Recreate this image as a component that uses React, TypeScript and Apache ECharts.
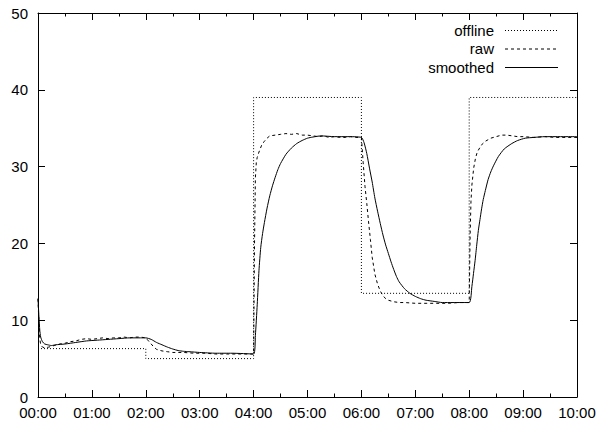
import React, { useEffect, useRef } from "react";
import * as echarts from "echarts";

const hourLabels = ["00:00", "01:00", "02:00", "03:00", "04:00", "05:00", "06:00", "07:00", "08:00", "09:00", "10:00"];
const yTicks = [0, 10, 20, 30, 40, 50];

const offlineTime = [0, 2, 2, 4, 4, 6, 6, 8, 8, 10];
const offlineValue = [6.3, 6.3, 5.0, 5.0, 39, 39, 13.5, 13.5, 39, 39];

const rawTime = [
  0, 0.017, 0.033, 0.05, 0.083, 0.125, 0.2, 0.3, 0.4, 0.5, 0.6, 0.7, 0.8, 0.9, 1.0, 1.1, 1.2, 1.3, 1.4, 1.5,
  1.6, 1.7, 1.8, 1.9, 2.0, 2.05, 2.1, 2.15, 2.2, 2.3, 2.4, 2.5, 2.7, 2.9, 3.1, 3.3, 3.5, 3.7, 3.9, 4.0,
  4.017, 4.033, 4.05, 4.067, 4.1, 4.15, 4.2, 4.25, 4.3, 4.4, 4.5, 4.6, 4.7, 4.8, 4.9, 5.0, 5.1, 5.2, 5.3, 5.4,
  5.5, 5.6, 5.7, 5.8, 5.9, 6.0, 6.033, 6.067, 6.1, 6.133, 6.167, 6.2, 6.25, 6.3, 6.35, 6.4, 6.45, 6.5, 6.6, 6.7,
  6.8, 7.0, 7.2, 7.4, 7.6, 7.8, 8.0, 8.017, 8.033, 8.05, 8.083, 8.117, 8.15, 8.2, 8.25, 8.3, 8.35, 8.4, 8.5, 8.6,
  8.7, 8.8, 8.9, 9.0, 9.2, 9.4, 9.6, 9.8, 10.0,
];
const rawValue = [
  12.8, 9.5, 7.6, 6.8, 6.5, 6.4, 6.5, 6.7, 6.9, 7.0, 7.2, 7.3, 7.5, 7.6, 7.5, 7.6, 7.7, 7.6, 7.7, 7.7,
  7.8, 7.7, 7.8, 7.8, 7.7, 7.3, 6.9, 6.5, 6.2, 6.0, 5.9, 5.8, 5.8, 5.7, 5.7, 5.6, 5.6, 5.6, 5.6, 5.6,
  20.0, 28.5, 30.5, 31.2, 31.9, 32.8, 33.3, 33.7, 34.0, 34.1, 34.2, 34.3, 34.2, 34.3, 34.1, 34.1, 34.0, 33.9, 34.0, 33.8,
  33.9, 33.8, 33.8, 33.9, 33.8, 33.8, 30.5, 27.4, 25.2, 22.8, 20.5, 18.2, 16.0, 14.7, 13.8, 13.2, 12.8, 12.6, 12.4, 12.3,
  12.3, 12.2, 12.2, 12.2, 12.2, 12.3, 12.3, 21.0, 25.5, 27.6, 29.8, 31.1, 31.9, 32.5, 33.0, 33.3, 33.5, 33.7, 33.9, 34.1,
  34.1, 34.0, 33.9, 33.9, 33.8, 33.9, 33.8, 33.8, 33.8,
];

const smoothTime = [
  0, 0.017, 0.033, 0.05, 0.083, 0.125, 0.18, 0.25, 0.33, 0.5, 0.7, 0.9, 1.1, 1.3, 1.5, 1.7, 1.9, 2.0,
  2.1, 2.2, 2.3, 2.4, 2.5, 2.6, 2.7, 2.8, 3.0, 3.3, 3.6, 4.0,
  4.033, 4.067, 4.1, 4.133, 4.167, 4.2, 4.25, 4.3, 4.35, 4.4, 4.45, 4.5, 4.6, 4.7, 4.8, 4.9, 5.0, 5.1, 5.25, 5.5, 5.75, 6.0,
  6.05, 6.1, 6.15, 6.2, 6.25, 6.3, 6.35, 6.4, 6.45, 6.5, 6.55, 6.6, 6.65, 6.7, 6.8, 6.9, 7.0, 7.1, 7.2, 7.35, 7.5, 7.7, 8.0,
  8.05, 8.08, 8.11, 8.14, 8.17, 8.2, 8.23, 8.26, 8.3, 8.35, 8.4, 8.45, 8.54, 8.65, 8.79, 8.9, 9.04, 9.2, 9.4, 10.0,
];
const smoothValue = [
  12.8, 10.5, 8.7, 7.8, 7.2, 6.9, 6.8, 6.7, 6.8, 6.9, 7.1, 7.3, 7.4, 7.5, 7.6, 7.7, 7.7, 7.7,
  7.5, 7.1, 6.8, 6.5, 6.25, 6.05, 5.95, 5.9, 5.8, 5.7, 5.7, 5.6,
  8.0, 12.0, 16.5, 19.5, 21.3, 22.7, 24.6, 26.2, 27.5, 28.6, 29.6, 30.4, 31.6, 32.4, 33.0, 33.4, 33.7, 33.85, 34.0, 33.9, 33.9, 33.8,
  33.1, 31.7, 29.8, 28.0, 25.9, 24.2, 22.6, 21.1, 19.8, 18.7, 17.6, 16.6, 15.7, 15.0, 14.1, 13.5, 13.1, 12.8, 12.6, 12.45, 12.3, 12.3, 12.3,
  14.4, 16.1, 17.8, 19.8, 21.7, 23.1, 24.5, 25.7, 26.9, 28.3, 29.3, 30.1, 31.3, 32.3, 33.0, 33.4, 33.7, 33.8, 33.9, 33.9,
];

const seriesNames = ["offline", "raw", "smoothed"];

const FONT = "'Liberation Sans', Arial, Helvetica, sans-serif";

function pairs(t: number[], v: number[]) {
  return t.map((x, i) => [x, v[i]]);
}

export default function App() {
  const ref = useRef<HTMLDivElement>(null);
  useEffect(() => {
    document.body.style.margin = "0";
    if (!ref.current) return;
    const chart = echarts.init(ref.current, undefined, { renderer: "svg" });
    const tickCommon = {
      axisLine: { show: true, onZero: false, lineStyle: { color: "#000", width: 1 } },
      axisTick: { show: true, inside: true, length: 7, lineStyle: { color: "#000", width: 1 } },
      splitLine: { show: false },
    };
    const dashes = [[1, 2], [3, 3], "solid"] as any[];
    const legendY = [30, 48.5, 67];
    const graphics: any[] = [];
    seriesNames.forEach((name, i) => {
      graphics.push({
        type: "text",
        x: 494,
        y: legendY[i],
        style: {
          text: name,
          font: `15px ${FONT}`,
          fill: "#000",
          align: "right",
          verticalAlign: "middle",
        },
      });
      graphics.push({
        type: "line",
        shape: { x1: 505, y1: legendY[i] + 0.5, x2: 558, y2: legendY[i] + 0.5 },
        style: { stroke: "#000", lineWidth: 1, lineDash: dashes[i] === "solid" ? null : dashes[i] },
      });
    });
    chart.setOption({
      animation: false,
      backgroundColor: "#fff",
      grid: { left: 38, right: 23, top: 13, bottom: 26, containLabel: false },
      xAxis: [
        {
          type: "value",
          min: 0,
          max: 10,
          interval: 1,
          position: "bottom",
          ...tickCommon,
          minorTick: { show: true, splitNumber: 2, length: 3.5, lineStyle: { color: "#000", width: 1 } },
          minorSplitLine: { show: false },
          axisLabel: {
            show: true,
            margin: 8,
            color: "#000",
            fontSize: 15,
            fontFamily: FONT,
            formatter: (v: number) => hourLabels[Math.round(v)],
          },
        },
        {
          type: "value",
          min: 0,
          max: 10,
          interval: 1,
          position: "top",
          ...tickCommon,
          minorTick: { show: true, splitNumber: 2, length: 3.5, lineStyle: { color: "#000", width: 1 } },
          minorSplitLine: { show: false },
          axisLabel: { show: false },
        },
      ],
      yAxis: [
        {
          type: "value",
          min: yTicks[0],
          max: yTicks[yTicks.length - 1],
          interval: 10,
          position: "left",
          ...tickCommon,
          axisLabel: { show: true, margin: 10, color: "#000", fontSize: 15, fontFamily: FONT },
        },
        {
          type: "value",
          min: yTicks[0],
          max: yTicks[yTicks.length - 1],
          interval: 10,
          position: "right",
          ...tickCommon,
          axisLabel: { show: false },
        },
      ],
      graphic: graphics,
      series: [
        {
          name: seriesNames[0],
          type: "line",
          data: pairs(offlineTime, offlineValue),
          symbol: "none",
          lineStyle: { color: "#000", width: 1, type: [1, 2] },
          z: 2,
        },
        {
          name: seriesNames[1],
          type: "line",
          data: pairs(rawTime, rawValue),
          symbol: "none",
          lineStyle: { color: "#000", width: 1, type: [3, 3] },
          z: 3,
        },
        {
          name: seriesNames[2],
          type: "line",
          data: pairs(smoothTime, smoothValue),
          symbol: "none",
          smooth: 0.2,
          lineStyle: { color: "#000", width: 1, type: "solid" },
          z: 4,
        },
      ],
    });
    return () => chart.dispose();
  }, []);
  return <div ref={ref} style={{ width: 600, height: 423 }} />;
}
